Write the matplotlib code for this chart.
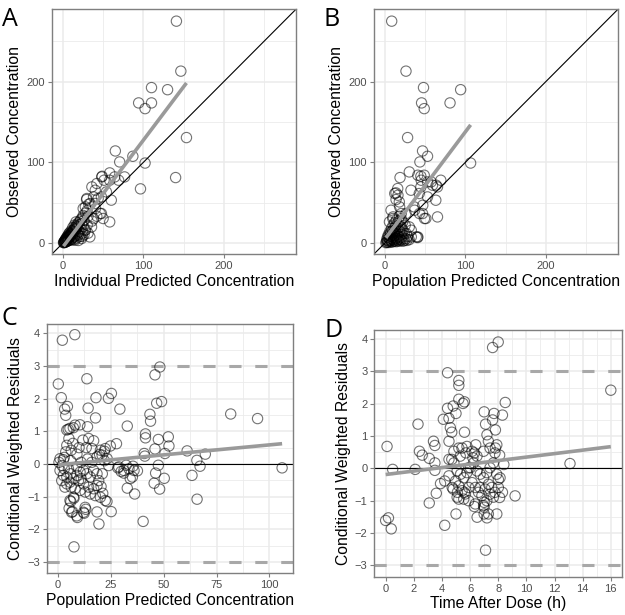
import numpy as np
import matplotlib
matplotlib.use("Agg")
import matplotlib.pyplot as plt

plt.rcParams['font.family'] = ['Liberation Sans', 'DejaVu Sans']

# Panel A: individual predicted vs observed concentration
ipred_a = [141, 146.5, 110, 130, 94, 102, 110, 153.5, 140, 65, 70.4, 86.8, 102, 96.3, 48.6, 58, 64.2, 69.1,
           76.5, 51, 58, 60, 58, 47.7, 49.8, 29.2, 32, 25, 40.3, 43.6, 33.3, 23, 14.8, 8.6, 35.4, 27.2, 47.7,
           53.9, 39.5, 42, 48.1, 40, 35.8, 37.9, 46.2, 17.3, 27.7, 33.8, 29.6,
           0.5, 1, 1.5, 2, 2.5, 3, 3.5, 4, 4.5, 5, 5.5, 6, 6.5, 7, 7.5, 8, 8.5, 9, 9.5, 10, 10.5, 11, 12, 12.5,
           13, 14, 15, 15.5, 16, 17, 18, 19, 20, 21, 22, 23, 24, 25, 26, 28, 30, 31,
           2, 3, 4, 5, 6, 7, 9, 10, 11, 12, 13, 14, 16, 17, 18, 19, 20, 21, 22, 24, 25, 26, 28, 30, 31, 19, 24,
           36, 38, 42, 1, 2, 3, 4, 5, 6, 7, 8, 10, 12, 14, 16]
obs_a = [275, 213, 192.6, 190, 173.6, 166.5, 173.6, 130.6, 81, 114, 100.4, 107.4, 99, 67, 82.6, 86.8, 81.8, 77.7,
         81.8, 77.7, 77.7, 53, 26, 36.4, 30.2, 53.7, 48, 42.6, 42.6, 55, 7.4, 5.4, 3.3, 7.4, 19.8, 15.7, 57,
         63.2, 48.8, 73.6, 81.8, 65.3, 69.4, 57, 36.4, 19.8, 44.6, 48.8, 55,
         0.3, 0.8, 1.2, 1.5, 2.2, 2.8, 3.5, 3.2, 4.8, 5.5, 4.5, 6.5, 7.2, 6.0, 8.5, 9.2, 7.5, 10.5, 11, 9.0, 12.5,
         13, 14.5, 11.5, 16, 17.5, 16, 19.5, 21, 18, 23, 25, 22, 27, 29, 24, 31, 34, 28, 37, 40, 33,
         0.5, 1, 1.5, 2, 2.5, 3, 4, 3.5, 5, 6.5, 4, 8, 9, 6, 12, 10, 14, 8, 17, 12, 20, 10, 16, 22, 12, 3, 8,
         27, 30, 33, 0.2, 2.5, 4.5, 6, 7.5, 9, 11, 12.5, 15, 19, 22, 26]

# Panel B: population predicted vs observed concentration
pred_b = [8.2, 26, 47.8, 94, 45.4, 48.7, 80.8, 28, 46.6, 52.8, 43.3, 106.4, 18.6, 30.1, 44.5, 48.7, 32.2, 13.6,
          15.7, 13.6, 17.7, 7.4, 9.5, 5.4, 30.1, 32.6, 40.4, 52.8, 59, 69.3, 65.2, 63.1, 65.2, 50.7, 46.6, 52.8,
          42.5, 36.3, 26, 44.5, 40.7, 44.9, 57.3, 63.5, 16, 12, 18.1, 20.2, 36.7, 42.8, 49, 46.9, 32.6, 38.8,
          26.4, 20.2, 12, 40.7, 9.9,
          1, 2, 3, 4, 5, 6, 7, 8, 9, 10, 11, 12, 13, 14, 15, 16, 17, 18, 19, 20, 22, 24, 25, 26, 28, 8, 10, 12,
          14, 6, 4, 16, 20, 22, 12, 9, 5, 3, 6, 7, 8, 10, 11, 13, 14, 15, 17, 18, 19, 21, 23, 24, 27, 30, 2, 3,
          5, 7, 9, 11, 13, 15, 17, 20, 22, 18]
obs_b = [275, 213, 192.6, 190, 173.6, 166.5, 173.6, 130.6, 114, 107.4, 100.4, 99, 81, 88, 82.6, 83.9, 65.3, 62,
         67.4, 53.7, 50.8, 40.5, 30.2, 26, 19.8, 7.4, 6.6, 75.6, 71.5, 77.7, 69.4, 52.9, 32.2, 30.2, 36.4, 57,
         61.2, 44.6, 36.4, 69.4, 83.9, 77.7, 75.6, 71.5, 59.1, 61.2, 44.6, 36.4, 40.5, 36.4, 30.2, 46.7, 15.7, 7.4,
         11.6, 19.8, 15.7, 7.4, 32.2,
         0.2, 1, 3, 2, 6, 4, 8, 5, 10, 7, 12, 9, 14, 6, 11, 18, 8, 14, 20, 10, 16, 12, 22, 5, 8, 18, 22, 25,
         28, 14, 10, 4, 3, 2, 2, 1, 0.5, 0.5, 2, 3, 1.5, 4, 2.5, 5, 1.5, 3, 2, 6, 4, 7, 5, 3, 3, 4, 4, 7,
         9, 13, 15, 18, 20, 24, 27, 30, 26, 33]

# Panel C: population predicted concentration vs CWRES
pred_c = [2.1, 8.0, 0.2, 1.6, 3.2, 4.5, 3.7, 13.7, 18.0, 23.9, 25.3, 14.3, 17.8, 29.3, 32.8, 10.4, 14.0, 7.3, 4.9,
          43.5, 43.8, 45.9, 48.2, 46.7, 49.0, 41.4, 41.4, 47.5, 52.2, 52.5, 50.6, 45.9, 40.8, 41.1, 61.1, 65.7,
          69.7, 67.2, 63.4, 65.8, 81.7, 94.4, 106, 47.5, 46.2, 45.5, 50.3, 48.1, 40.3, 36.3, 34.2, 32.8, 27.7,
          24.8, 22.0, 19.7, 28.3, 29.9, 31.2, 32.3, 35.5, 37.6, 25.2, 23.2, 18.5, 19.4, 7.6, 9.2, 12.4, 13.2, 5.3,
          6.9, 6.1, 7.6, 21.2, 20.4,
          1.0, 2.6, 4.2, 5.7, 8.1, 4.2, 7.1, 5.2, 6.3, 3.7, 11.8, 14.5, 16.9, 13.4, 16.1, 20.1, 22.4, 18.5, 20.9,
          23.3, 1.0, 2.6, 4.2, 1.8, 4.2, 5.7, 7.4, 3.3, 6.3, 8.9, 10.5, 12.1, 13.7, 15.3, 9.7, 12.1, 14.5, 16.9,
          18.5, 19.3, 16.9, 18.5, 20.1, 17.7, 15.3, 12.9, 10.5, 8.1, 5.7, 7.4, 6.5, 8.9, 12.1, 12.9, 22.4,
          28.8, 31.2, 33.6, 36.0, 35.2,
          0.5, 2, 3, 5, 6, 9, 10, 11, 14, 16, 21, 22, 24, 9, 11, 3, 6]
cwres_c = [3.79, 3.96, 2.45, 2.03, 1.68, 1.76, 1.49, 2.61, 2.03, 2.01, 2.16, 1.71, 1.41, 1.68, 1.16, 1.20, 1.14,
           1.11, 1.06, 1.52, 1.31, 2.73, 2.97, 1.86, 1.91, 0.92, 0.80, 0.75, 0.83, 0.55, 0.32, 0.46, 0.32, 0.24,
           0.40, 0.11, 0.30, -0.07, -0.35, -1.08, 1.53, 1.39, -0.12, -0.04, -0.28, -0.59, -0.44, -0.77, -1.76,
           -0.92, -0.45, -0.74, 0.62, 0.55, 0.39, 0.29, -0.12, -0.23, -0.28, -0.04, -0.07, -0.21, -1.46, -1.15,
           -1.47, -1.84, -2.54, -1.64, -1.51, -1.39, -1.36, -1.46, -1.15, -1.05, -0.90, -0.69,
           0.16, 0.13, 1.04, 1.09, 1.19, 0.57, 0.63, 0.78, 0.42, 0.37, 0.73, 0.78, 0.71, 0.50, 0.47, 0.42, 0.47,
           0.22, 0.27, 0.16, -0.2, -0.35, -0.40, -0.51, -0.61, -0.56, -0.45, -0.71, -0.71, -0.09, -0.25, -0.2,
           -0.30, -0.40, -0.51, -0.61, -0.71, -0.76, -0.66, -0.51, -0.20, -0.30, -1.02, -0.97, -0.92, -0.86,
           -0.81, -0.76, -1.12, -1.02, -1.48, -1.59, -1.48, -1.33, -1.12,
           -0.09, -0.2, -0.15, -0.2, -0.4,
           0.05, -0.05, 0.2, -0.15, 0.1, 0.3, 0.5, 0.05, 0.15, 0.05, -0.3, 0.1, -0.05, -0.35, -0.45, -0.15, -0.3]

# Panel D: time after dose vs CWRES
tad_d = [0.1, 0.0, 0.2, 0.4, 0.5, 2.1, 2.3, 2.4, 2.6, 3.1, 3.1, 3.4, 3.5, 3.5, 3.6, 3.5, 4.1, 4.2, 4.4, 4.4,
         4.5, 4.6, 4.5, 4.7, 4.7, 4.8, 5.0, 5.0, 5.2, 5.2, 5.2, 5.5, 5.6, 5.6, 3.9, 4.2, 4.8, 5.2, 5.3, 5.7,
         5.9, 6.4, 6.3, 6.2, 5.1, 5.6, 5.2, 5.9, 6.3, 6.5, 7.0, 7.1, 7.2, 7.3, 7.6, 7.7, 7.8, 7.8, 7.9, 8.1,
         8.3, 8.5, 7.2, 7.0, 7.3, 7.1, 7.6, 8.0, 7.9, 7.0, 7.0, 6.7, 7.4, 8.1, 8.3, 9.2, 8.4, 13.1, 16.0,
         4.5, 4.85, 5.08, 5.32, 5.55, 5.78, 6.02, 6.25, 6.49, 6.72, 6.96, 7.19, 7.42, 7.66, 7.89, 8.01, 4.97,
         5.2, 5.43, 5.67, 5.9, 6.14, 6.37, 6.6, 6.84, 7.07, 7.31, 7.54, 7.77, 8.01, 5.43, 5.78, 6.14, 6.49,
         6.96, 7.42, 7.77, 4.85, 4.5, 4.73, 5.08, 5.55, 6.37, 6.96, 7.19, 7.66, 8.13]
cwres_d = [0.68, -1.61, -1.53, -1.87, -0.03, -0.03, 1.37, 0.53, 0.41, 0.31, -1.07, 0.84, 0.71, -0.06, -0.77,
           0.17, 1.52, -1.76, 2.96, 1.86, 1.55, 1.26, 0.84, 1.12, 0.28, 1.93, -1.41, 1.70, 2.57, 2.72, 2.14,
           2.01, 2.06, 1.12, -0.47, -0.39, -0.64, 0.63, 0.38, 0.48, 0.02, 0.73, 0.48, 0.33, -0.74, -0.74, -0.95,
           -1.0, -1.18, -1.51, 1.75, 1.37, 1.04, 0.84, 1.50, 1.70, 1.19, 0.63, 0.73, 0.41, 1.65, 2.04, -1.53,
           -1.41, -1.41, -2.53, 3.74, 3.91, -1.41, -1.05, -1.2, -0.59, -0.8, -0.9, -0.74, -0.85, 0.12, 0.15, 2.42,
           0.28, 0.17, -0.08, -0.18, -0.29, -0.13, 0.02, 0.17, -0.08, -0.18, -0.29, -0.13, 0.02, 0.17, -0.18,
           -0.34, -0.39, -0.54, -0.69, -0.79, -0.59, -0.44, -0.59, -0.74, -0.84, -0.64, -0.49, -0.59, -0.74,
           -0.59, 0.63, 0.68, 0.53, 0.38, 0.53, 0.63, 0.48, 0.53, -0.23, -0.59, -0.89, -0.95, -1.1, -1.15, -1.0,
           -0.89, -0.29]

GRID = '#EBEBEB'
BORDER = '#7F7F7F'
TICKTXT = '#4D4D4D'
FIT = '#9A9A9A'


def styleAxes(ax, xlim, ylim, xmajor, xminor, ymajor, yminor, xlabel, ylabel):
    ax.set_xlim(*xlim)
    ax.set_ylim(*ylim)
    ax.set_xticks(xmajor)
    ax.set_xticks(xminor, minor=True)
    ax.set_yticks(ymajor)
    ax.set_yticks(yminor, minor=True)
    ax.grid(which='major', color=GRID, lw=1.1, zorder=0)
    ax.grid(which='minor', color=GRID, lw=0.6, zorder=0)
    ax.set_axisbelow(True)
    for s in ax.spines.values():
        s.set_color(BORDER)
        s.set_linewidth(1.0)
    ax.tick_params(which='major', direction='out', length=3, width=0.8, color=BORDER,
                   labelsize=8, labelcolor=TICKTXT, pad=2)
    ax.tick_params(which='minor', length=0)
    ax.set_xlabel(xlabel, fontsize=11.3, labelpad=2)
    ax.set_ylabel(ylabel, fontsize=11.3, labelpad=3)


def drawPoints(ax, x, y):
    ax.scatter(x, y, s=55, facecolors='none', edgecolors='black', linewidths=0.8, alpha=0.55, zorder=3)
    # linear fit over range of x, like geom_smooth(method = "lm")
    x = np.asarray(x, dtype=float)
    slope, intercept = np.polyfit(x, np.asarray(y, dtype=float), 1)
    xs = np.array([x.min(), x.max()])
    ax.plot(xs, intercept + slope * xs, color=FIT, lw=2.6, solid_capstyle='butt', zorder=4)


fig = plt.figure(figsize=(6.25, 6.15), dpi=100)

conc_lim = (-13.8, 289.8)

axA = fig.add_axes([0.0832, 0.587, 0.3904, 0.398])
axA.axline((0, 0), slope=1, color='black', lw=0.8, zorder=2)
drawPoints(axA, ipred_a, obs_a)
styleAxes(axA, conc_lim, conc_lim, [0, 100, 200], [50, 150, 250], [0, 100, 200], [50, 150, 250],
          'Individual Predicted Concentration', 'Observed Concentration')

axB = fig.add_axes([0.5984, 0.587, 0.3904, 0.398])
axB.axline((0, 0), slope=1, color='black', lw=0.8, zorder=2)
drawPoints(axB, pred_b, obs_b)
styleAxes(axB, conc_lim, conc_lim, [0, 100, 200], [50, 150, 250], [0, 100, 200], [50, 150, 250],
          'Population Predicted Concentration', 'Observed Concentration')

res_ticks = np.arange(-3, 5)
res_minor = np.arange(-2.5, 4, 1.0)

axC = fig.add_axes([0.0747, 0.0678, 0.3946, 0.405])
axC.axhline(0, color='black', lw=0.8, zorder=2)
for lvl in (-3, 3):
    axC.axhline(lvl, color='#A8A8A8', lw=2.2, dashes=(4, 4.5), zorder=2)
drawPoints(axC, pred_c, cwres_c)
styleAxes(axC, (-5.3, 111.3), (-3.35, 4.28), [0, 25, 50, 75, 100], [12.5, 37.5, 62.5, 87.5],
          res_ticks, res_minor, 'Population Predicted Concentration', 'Conditional Weighted Residuals')

axD = fig.add_axes([0.599, 0.0623, 0.3963, 0.401])
axD.axhline(0, color='black', lw=0.8, zorder=2)
for lvl in (-3, 3):
    axD.axhline(lvl, color='#A8A8A8', lw=2.2, dashes=(4, 4.5), zorder=2)
drawPoints(axD, tad_d, cwres_d)
styleAxes(axD, (-0.8, 16.8), (-3.35, 4.28), np.arange(0, 17, 2), np.arange(1, 16, 2),
          res_ticks, res_minor, 'Time After Dose (h)', 'Conditional Weighted Residuals')

# panel letters
for lab, x, y in [('A', 0.003, 0.968), ('B', 0.518, 0.968), ('C', 0.003, 0.482), ('D', 0.519, 0.462)]:
    fig.text(x, y, lab, fontsize=18, family=['Open Sans', 'DejaVu Sans'], va='center', ha='left')

fig.savefig('out.png', dpi=100)
